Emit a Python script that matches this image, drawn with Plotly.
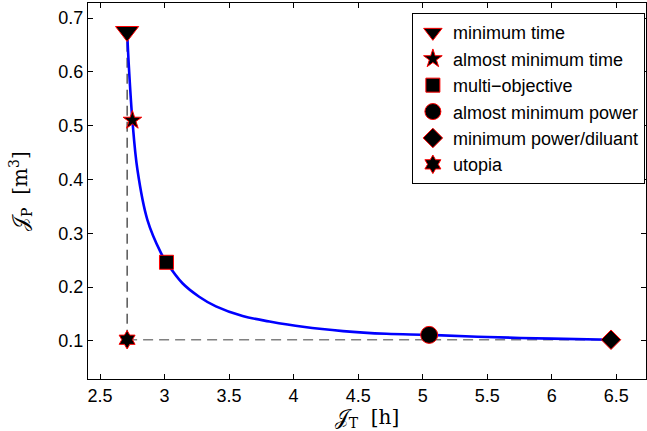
import plotly.graph_objects as go

# Pareto front (J_T [h], J_P [m^3])
front_t = [2.71, 2.725, 2.751, 2.79, 2.867, 2.971, 3.015, 3.139, 3.268, 3.398, 3.605, 3.813, 4.072, 4.383, 4.719, 5.05, 5.5, 6.0, 6.459]
front_p = [0.675, 0.604, 0.510, 0.418, 0.325, 0.264, 0.246, 0.207, 0.182, 0.164, 0.146, 0.136, 0.126, 0.118, 0.113, 0.111, 0.107, 0.104, 0.102]

# Special points
point_names = ["minimum time", "almost minimum time", "multi\u2212objective",
               "almost minimum power", "minimum power/diluant", "utopia"]
point_t = [2.71, 2.751, 3.015, 5.05, 6.459, 2.71]
point_p = [0.675, 0.510, 0.246, 0.111, 0.102, 0.102]
point_symbols = ["triangle-down", "star", "square", "circle", "diamond", "hexagram"]
point_sizes = [20, 14, 14, 17, 15, 14]

x_ticks = [2.5, 3, 3.5, 4, 4.5, 5, 5.5, 6, 6.5]
y_ticks = [0.1, 0.2, 0.3, 0.4, 0.5, 0.6, 0.7]

x_title = "\U0001D4A5<sub>T</sub>  [h]"
y_title = "\U0001D4A5<sub>P</sub>  [m<sup>3</sup>]"

fig = go.Figure()

# utopia dashed guides
fig.add_trace(go.Scatter(x=[point_t[5], point_t[0]], y=[point_p[5], point_p[0]], mode="lines",
                         line=dict(color="black", width=1, dash="10px,6px"), showlegend=False, hoverinfo="skip"))
fig.add_trace(go.Scatter(x=[point_t[5], point_t[4]], y=[point_p[5], point_p[4]], mode="lines",
                         line=dict(color="#808080", width=1.6, dash="10px,6px"), showlegend=False, hoverinfo="skip"))

fig.add_trace(go.Scatter(x=front_t, y=front_p, mode="lines", line=dict(color="#0000ff", width=2.6, shape="spline"),
                         showlegend=False))

for name, t, p, sym, sz in zip(point_names, point_t, point_p, point_symbols, point_sizes):
    fig.add_trace(go.Scatter(x=[t], y=[p], mode="markers", name=name,
                             marker=dict(symbol=sym, size=sz, color="black", line=dict(color="red", width=1))))

axis_common = dict(showline=True, linecolor="black", linewidth=1, mirror="ticks", ticks="inside", ticklen=5,
                   tickcolor="black", showgrid=False, zeroline=False, automargin=False,
                   tickfont=dict(family="Liberation Sans, Arial, sans-serif", size=18, color="black"))
title_font = dict(family="DejaVu Serif, Liberation Serif, serif", size=20, color="black")

fig.update_layout(
    width=647, height=431,
    margin=dict(l=88, r=1, t=3, b=52),
    plot_bgcolor="white", paper_bgcolor="white",
    xaxis=dict(range=[2.407, 6.73], tickvals=x_ticks, ticktext=[f"{v:g}" for v in x_ticks],
               title=dict(text=x_title, standoff=0, font=title_font), **axis_common),
    yaxis=dict(range=[0.029, 0.728], tickvals=y_ticks, ticktext=[f"{v:g}" for v in y_ticks],
               **axis_common),
    legend=dict(x=0.998, y=0.973, xanchor="right", yanchor="top", bordercolor="black", borderwidth=1,
                bgcolor="white", font=dict(family="Liberation Sans, Arial, sans-serif", size=18, color="black"),
                tracegroupgap=0, itemwidth=30),
    showlegend=True,
    annotations=[dict(text=y_title, xref="paper", yref="paper", x=-0.122, y=0.5, xanchor="center",
                      yanchor="middle", textangle=-90, showarrow=False, font=title_font)],
)

fig.write_html("out.html", config={"displayModeBar": False},
               post_script="document.body.style.margin='0px';")
